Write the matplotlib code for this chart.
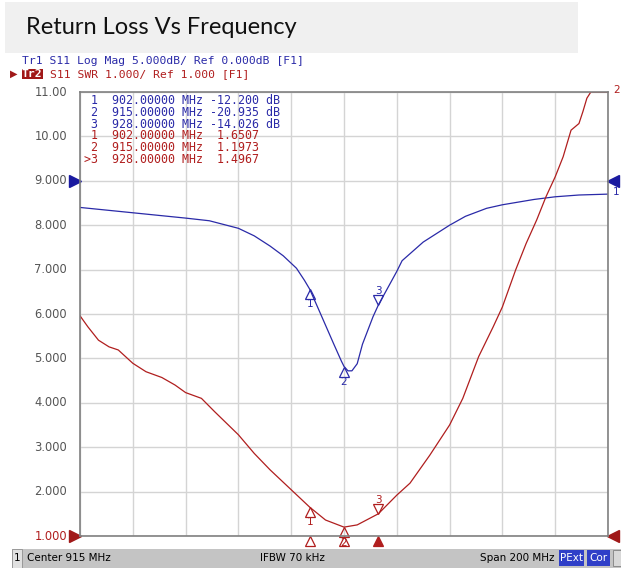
import matplotlib
matplotlib.use("Agg")
import matplotlib.pyplot as plt
from matplotlib.patches import Rectangle
from matplotlib.transforms import offset_copy

W, H = 621, 568

# trace 1: S11 log mag (dB), trace 2: S11 SWR
blue_freq = [815, 835, 855, 864, 875, 881, 887, 892, 897, 900, 902, 906, 911, 914, 915,
             916.5, 918, 920, 922, 926, 928, 935, 937, 945, 955, 961, 969, 975, 987, 995,
             1004, 1015]
blue_db = [-3.0, -3.6, -4.2, -4.5, -5.35, -6.2, -7.35, -8.45, -9.85, -11.2, -12.2, -14.9,
           -18.3, -20.3, -20.9, -21.4, -21.4, -20.6, -18.4, -15.3, -14.0, -10.2, -9.0,
           -6.9, -5.0, -4.0, -3.1, -2.7, -2.1, -1.8, -1.6, -1.5]

red_freq = [815, 818, 822, 826, 829.5, 835, 840, 846, 851, 855, 861, 866, 875, 881, 887,
            894.5, 902, 908, 915, 920, 928, 935, 940, 947.5, 955, 960, 966, 971.5, 975, 980,
            984, 988, 991.5, 995, 998, 1001, 1004, 1005.5, 1007, 1008.5, 1015]
red_swr = [5.96, 5.71, 5.41, 5.26, 5.19, 4.89, 4.70, 4.57, 4.40, 4.23, 4.10, 3.80, 3.28,
           2.86, 2.49, 2.07, 1.65, 1.36, 1.20, 1.25, 1.50, 1.92, 2.19, 2.82, 3.50, 4.10,
           5.04, 5.71, 6.16, 6.99, 7.59, 8.12, 8.64, 9.09, 9.54, 10.14, 10.29, 10.56, 10.86,
           11.0, 11.0]

marker_freq = [902, 915, 928]
marker_db = [-12.200, -20.935, -14.026]
marker_swr = [1.6507, 1.1973, 1.4967]

ytick_vals = [11, 10, 9, 8, 7, 6, 5, 4, 3, 2, 1]
ytick_labels = ["11.00", "10.00", "9.000", "8.000", "7.000", "6.000", "5.000",
                "4.000", "3.000", "2.000", "1.000"]

BLUE = "#2a2aa8"
RED = "#b01e1e"
MONO = "DejaVu Sans Mono"


def px(x, y):
    return x / W, 1 - y / H


def db_to_axis(d):
    # 5 dB/div, ref 0 dB sits on the 9.000 line of the SWR scale
    return 9 + d / 5.0


fig = plt.figure(figsize=(W / 100, H / 100), dpi=100)

# title box
fig.add_artist(Rectangle(px(5, 53), 573 / W, 51 / H, transform=fig.transFigure,
                         facecolor="#f0f0f0", edgecolor="none"))
fig.text(*px(26, 28), "Return Loss Vs Frequency", fontsize=17, family="Lato",
         va="center", ha="left", color="#111111")

# header lines
fig.text(*px(22, 61), "Tr1 S11 Log Mag 5.000dB/ Ref 0.000dB [F1]", family=MONO,
         fontsize=8.2, color=BLUE, va="center")
fig.text(*px(22, 74), "Tr2", family=MONO, fontsize=8.2, color="white", va="center",
         fontweight="bold",
         bbox=dict(boxstyle="square,pad=0.0", facecolor="#a01818", edgecolor="none"))
fig.text(*px(50, 74), "S11 SWR 1.000/ Ref 1.000 [F1]", family=MONO, fontsize=8.2,
         color=RED, va="center")
fig.text(*px(10, 74), "\u25b6", fontsize=7, color="#a01818", va="center")

ax = fig.add_axes([80 / W, 1 - 536 / H, 528 / W, 444 / H])
ax.set_xlim(815, 1015)
ax.set_ylim(1, 11)
ax.set_xticks(range(815, 1016, 20))
ax.set_yticks(ytick_vals)
ax.tick_params(length=0, labelleft=False, labelbottom=False)
ax.grid(True, color="#d4d4d4", linewidth=1.0)
ax.set_axisbelow(True)
for s in ax.spines.values():
    s.set_color("#808080")
    s.set_linewidth(1.2)

blue_v = [db_to_axis(d) for d in blue_db]
ax.plot(blue_freq, blue_v, color=BLUE, linewidth=0.9)
ax.plot(red_freq, red_swr, color=RED, linewidth=0.9)

# y tick labels drawn on the figure
for v, lab in zip(ytick_vals, ytick_labels):
    y = 92 + (11 - v) * 44.4
    fig.text(*px(67, y), lab, ha="right", va="center", fontsize=8.3,
             color=RED if v == 1 else "#555555")


# marker symbols on traces
def draw_markers(values, color):
    for i, (f, v) in enumerate(zip(marker_freq, values)):
        num = str(i + 1)
        if i < 2:
            tr = offset_copy(ax.transData, fig=fig, x=0, y=-3.5, units="points")
            ax.plot(f, v, marker="^", ms=6.5, mfc="none", mec=color, mew=0.9,
                    transform=tr, clip_on=False)
            ax.annotate(num, (f, v), xytext=(0, -11), textcoords="offset points",
                        ha="center", va="center", fontsize=7.5, color=color,
                        annotation_clip=False)
        else:
            tr = offset_copy(ax.transData, fig=fig, x=0, y=3.5, units="points")
            ax.plot(f, v, marker="v", ms=6.5, mfc="none", mec=color, mew=0.9,
                    transform=tr, clip_on=False)
            ax.annotate(num, (f, v), xytext=(0, 10), textcoords="offset points",
                        ha="center", va="center", fontsize=7.5, color=color)


draw_markers([db_to_axis(d) for d in marker_db], BLUE)
draw_markers(marker_swr, RED)

# marker position indicators under the grid
for i, f in enumerate(marker_freq):
    ax.plot(f, 0.88, marker="^", ms=7, mfc=RED if i == 2 else "white", mec=RED,
            mew=0.9, clip_on=False)

# reference level arrows and trace end labels
ax.plot(813.2, 9, marker=">", ms=8, color="#1a1aa0", clip_on=False)
ax.plot(1016.8, 9, marker="<", ms=8, color="#1a1aa0", clip_on=False)
ax.plot(813.2, 1, marker=">", ms=8, color="#a01818", clip_on=False)
ax.plot(1016.8, 1, marker="<", ms=8, color="#a01818", clip_on=False)
fig.text(*px(613, 192), "1", fontsize=7.5, color=BLUE, va="center")
fig.text(*px(613, 90), "2", fontsize=7.5, color=RED, va="center")

# marker table
rows = [(" 1  902.00000 MHz -12.200 dB", BLUE),
        (" 2  915.00000 MHz -20.935 dB", BLUE),
        (" 3  928.00000 MHz -14.026 dB", BLUE),
        (" 1  902.00000 MHz  1.6507", RED),
        (" 2  915.00000 MHz  1.1973", RED),
        (">3  928.00000 MHz  1.4967", RED)]
for k, (txt, c) in enumerate(rows):
    fig.text(*px(84, 100.7 + 11.7 * k), txt, family=MONO, fontsize=8.4, color=c,
             va="center")

# status bar
fig.add_artist(Rectangle(px(12, 568), 609 / W, 19 / H, transform=fig.transFigure,
                         facecolor="#c4c4c4", edgecolor="none"))
fig.add_artist(Rectangle(px(12, 568), 10 / W, 19 / H, transform=fig.transFigure,
                         facecolor="#e0e0e0", edgecolor="#909090", linewidth=0.6))
fig.text(*px(14, 558), "1", fontsize=7.5, va="center")
fig.text(*px(27, 558), "Center 915 MHz", fontsize=7.5, va="center")
fig.text(*px(260, 558), "IFBW 70 kHz", fontsize=7.5, va="center")
fig.text(*px(480, 558), "Span 200 MHz", fontsize=7.5, va="center")
for x0, x1, lab in [(559, 584, "PExt"), (587, 610, "Cor")]:
    fig.add_artist(Rectangle(px(x0, 566), (x1 - x0) / W, 16 / H, transform=fig.transFigure,
                             facecolor="#2f3fc8", edgecolor="none"))
    fig.text(*px((x0 + x1) / 2, 558), lab, fontsize=7.5, color="white", ha="center",
             va="center")
fig.add_artist(Rectangle(px(613, 566), 8 / W, 16 / H, transform=fig.transFigure,
                         facecolor="#d8d8d8", edgecolor="#808080", linewidth=0.6))

fig.savefig("out.png", dpi=100)
